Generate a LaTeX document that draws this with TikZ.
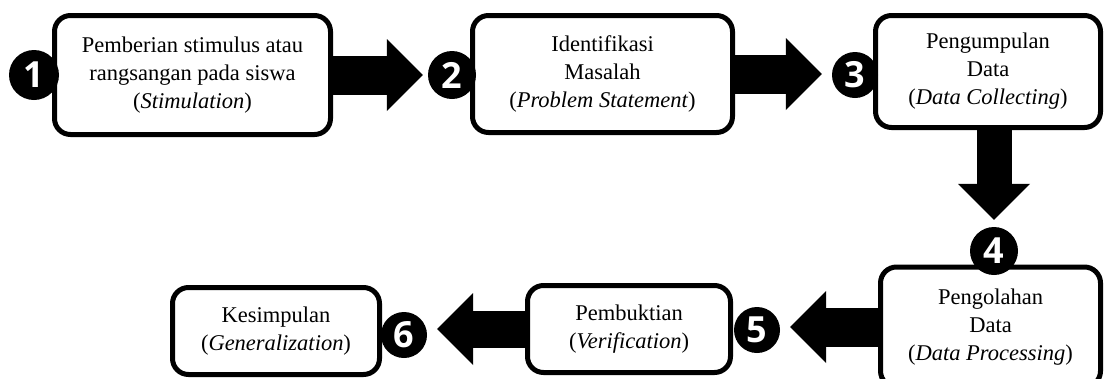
\documentclass[tikz,border=0pt]{standalone}
\usepackage{fontspec}
\setmainfont{Liberation Serif}
\newfontfamily\numfont{Open Sans}
\usetikzlibrary{arrows.meta}

\begin{document}
\begin{tikzpicture}[x=1pt,y=-1pt,
   stage/.style={draw,line width=5pt,rounded corners=16pt,fill=white,align=center,
      inner sep=0pt,font=\fontsize{22.5}{28}\selectfont},
   num/.style={circle,fill=black,text=white,inner sep=0pt,minimum size=#1,
      font=\numfont\bfseries\fontsize{36}{36}\selectfont},
   bigarrow/.style={line width=#1,-{Triangle[width=72pt,length=36pt,line width=0pt 0 0]}},
   bigarrow/.default=39pt]
   \useasboundingbox (0,0) rectangle (1105,378);
   \clip (0,0) rectangle (1105,378);

   % langkah-langkah
   \node[stage,minimum width=276pt,minimum height=119pt] (b1) at (192.5,75)
      {Pemberian stimulus atau\\rangsangan pada siswa\\(\textit{Stimulation})};
   \node[stage,minimum width=260pt,minimum height=117pt] (b2) at (602.5,74)
      {Identifikasi\\Masalah\\(\textit{Problem Statement})};
   \node[stage,minimum width=225pt,minimum height=112pt] (b3) at (988,71.5)
      {Pengumpulan\\Data\\(\textit{Data Collecting})};
   \node[stage,minimum width=220pt,minimum height=120pt] (b4) at (990.5,327)
      {Pengolahan\\Data\\(\textit{Data Processing})};
   \node[stage,minimum width=203pt,minimum height=87pt] (b5) at (629,329)
      {Pembuktian\\(\textit{Verification})};
   \node[stage,minimum width=207pt,minimum height=87pt] (b6) at (276,331)
      {Kesimpulan\\(\textit{Generalization})};

   % nomor
   \node[num=50pt] (c1) at (34,75) {1};
   \node[num=48pt] (c2) at (452,75) {2};
   \node[num=46pt] (c3) at (855,75) {3};
   \node[num=48pt] (c4) at (994,251) {4};
   \node[num=46pt] (c5) at (757,330) {5};
   \node[num=46pt] (c6) at (404,335) {6};

   % panah
   \draw[bigarrow,shorten >=5pt] (b1.east) -- (c2.west);
   \draw[bigarrow,shorten >=10pt] (b2.east) -- (b2.east -| c3.west);
   \draw[bigarrow=35pt,shorten >=7pt] (c4 |- b3.south) -- (c4.north);
   \draw[bigarrow,shorten >=10pt] (b4.west) -- (b4.west -| c5.east);
   \draw[bigarrow=37pt,shorten >=10pt] (b5.west) -- (b5.west -| c6.east);
\end{tikzpicture}
\end{document}
